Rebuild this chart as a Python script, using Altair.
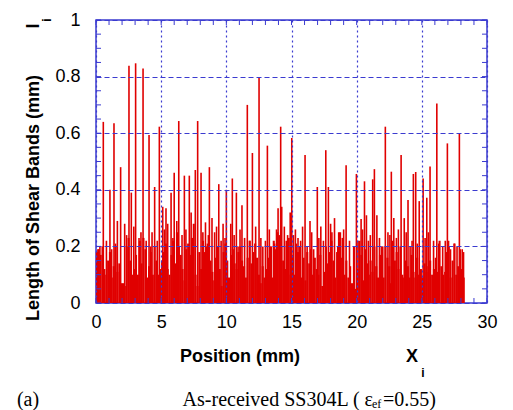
import altair as alt
import pandas as pd

# ---- data ----
peak_x = [0.56, 1.07, 1.38, 1.64, 1.89, 2.53, 2.71, 3.04, 3.30, 3.61, 3.85, 4.07, 4.50, 4.86,
          5.12, 5.37, 5.76, 6.00, 6.35, 6.78, 7.16, 7.30, 7.62, 7.80, 8.06, 8.40, 8.70, 9.10,
          9.42, 9.75, 10.00, 10.34, 10.46, 10.77, 11.20, 11.61, 12.00, 12.51, 13.15, 13.45,
          13.70, 13.97, 14.17, 14.25, 14.60, 14.70, 14.90, 15.02, 15.50, 15.70, 16.04, 16.42,
          16.70, 16.98, 17.25, 17.63, 17.83, 18.10, 18.55, 18.75, 19.00, 19.19, 19.80, 19.98,
          20.34, 20.60, 20.75, 20.90, 21.23, 21.36, 21.55, 21.75, 22.20, 22.40, 22.66, 22.85,
          23.41, 23.65, 23.94, 24.35, 24.53, 24.80, 25.10, 25.38, 25.63, 26.15, 26.80, 26.96,
          27.50, 27.88, 28.10,
          0.30, 2.20, 4.30, 5.50, 6.60, 8.90, 9.60, 10.90, 11.80, 12.80, 13.30, 15.30, 16.20,
          18.30, 20.10, 22.00, 23.20, 24.10, 25.90, 27.20]
peak_y = [0.64, 0.40, 0.635, 0.29, 0.48, 0.838, 0.39, 0.847, 0.23, 0.829, 0.22, 0.594, 0.41, 0.623,
          0.34, 0.335, 0.39, 0.46, 0.643, 0.45, 0.45, 0.32, 0.47, 0.643, 0.46, 0.285, 0.48, 0.25,
          0.42, 0.28, 0.40, 0.28, 0.44, 0.39, 0.345, 0.70, 0.53, 0.796, 0.556, 0.20,
          0.21, 0.335, 0.623, 0.34, 0.22, 0.24, 0.32, 0.583, 0.23, 0.22, 0.523, 0.29,
          0.19, 0.41, 0.27, 0.54, 0.41, 0.25, 0.20, 0.25, 0.26, 0.487, 0.20, 0.456,
          0.297, 0.43, 0.31, 0.22, 0.437, 0.473, 0.31, 0.23, 0.623, 0.25, 0.464, 0.30,
          0.523, 0.30, 0.364, 0.456, 0.463, 0.36, 0.44, 0.372, 0.482, 0.705, 0.22, 0.564,
          0.21, 0.60, 0.19,
          0.20, 0.28, 0.25, 0.28, 0.24, 0.30, 0.22, 0.20, 0.22, 0.20, 0.26, 0.26, 0.20,
          0.30, 0.22, 0.20, 0.26, 0.20, 0.22, 0.19]

# medium-height bands
mid_x = [0.15, 0.80, 1.20, 1.50, 2.35, 2.90, 3.45, 4.20, 4.70, 5.25, 5.90, 6.20, 6.90, 7.45,
         8.20, 8.55, 9.25, 9.90, 10.60, 11.05, 11.40, 12.25, 12.65, 13.00, 13.85, 14.45, 15.15,
         15.85, 16.55, 17.10, 17.45, 18.00, 18.90, 19.45, 20.45, 21.05, 21.90, 22.55, 23.05,
         23.80, 24.25, 24.65, 25.25, 25.50, 26.30, 26.60, 27.05, 27.70, 28.20]
mid_y = [0.19, 0.22, 0.19, 0.21, 0.24, 0.27, 0.25, 0.20, 0.22, 0.26, 0.23, 0.29, 0.26, 0.22,
         0.25, 0.21, 0.27, 0.23, 0.24, 0.26, 0.23, 0.27, 0.23, 0.22, 0.26, 0.27, 0.24,
         0.27, 0.25, 0.23, 0.22, 0.28, 0.23, 0.22, 0.26, 0.24, 0.20, 0.24, 0.23,
         0.25, 0.22, 0.21, 0.23, 0.25, 0.21, 0.20, 0.22, 0.20, 0.18]

# low, dense background bands: heights per millimetre of position
bg_heights = {
    0: [0.18, 0.19, 0.17, 0.20, 0.12, 0.10, 0.15],
    1: [0.18, 0.09, 0.13, 0.20, 0.11, 0.14, 0.07],
    2: [0.07, 0.06, 0.20, 0.23, 0.15, 0.10, 0.12],
    3: [0.17, 0.10, 0.22, 0.14, 0.23, 0.19, 0.09],
    4: [0.13, 0.18, 0.10, 0.20, 0.15, 0.10, 0.12],
    5: [0.15, 0.18, 0.21, 0.12, 0.10, 0.17, 0.22],
    6: [0.14, 0.25, 0.20, 0.17, 0.12, 0.08, 0.19],
    7: [0.21, 0.17, 0.23, 0.28, 0.10, 0.06, 0.18],
    8: [0.12, 0.22, 0.18, 0.20, 0.24, 0.15, 0.11],
    9: [0.08, 0.16, 0.20, 0.12, 0.06, 0.18, 0.21],
    10: [0.15, 0.09, 0.17, 0.19, 0.14, 0.12, 0.18],
    11: [0.20, 0.15, 0.13, 0.09, 0.16, 0.22, 0.14],
    12: [0.18, 0.21, 0.16, 0.10, 0.07, 0.13, 0.09],
    13: [0.12, 0.16, 0.20, 0.09, 0.22, 0.19, 0.25],
    14: [0.24, 0.20, 0.15, 0.12, 0.20, 0.23, 0.10],
    15: [0.17, 0.10, 0.21, 0.18, 0.20, 0.09, 0.16],
    16: [0.08, 0.18, 0.14, 0.19, 0.10, 0.16, 0.12],
    17: [0.10, 0.17, 0.06, 0.11, 0.20, 0.14, 0.18],
    18: [0.22, 0.15, 0.09, 0.18, 0.25, 0.16, 0.12],
    19: [0.10, 0.15, 0.09, 0.13, 0.07, 0.20, 0.05],
    20: [0.12, 0.22, 0.17, 0.08, 0.19, 0.14, 0.10],
    21: [0.15, 0.11, 0.20, 0.13, 0.09, 0.17, 0.12],
    22: [0.09, 0.20, 0.16, 0.13, 0.07, 0.22, 0.15],
    23: [0.18, 0.12, 0.20, 0.10, 0.09, 0.15, 0.13],
    24: [0.09, 0.17, 0.11, 0.09, 0.16, 0.10, 0.12],
    25: [0.09, 0.14, 0.11, 0.13, 0.15, 0.10, 0.12],
    26: [0.16, 0.11, 0.22, 0.13, 0.10, 0.11, 0.18],
    27: [0.20, 0.09, 0.15, 0.21, 0.10, 0.13, 0.19],
    28: [0.12, 0.09],
}
bg_offsets = [0.07, 0.21, 0.36, 0.50, 0.64, 0.79, 0.93]

x_ticks = [0, 5, 10, 15, 20, 25, 30]
y_ticks = [0, 0.2, 0.4, 0.6, 0.8, 1.0]
x_minor = list(range(0, 31))
y_minor = [i / 20 for i in range(0, 21)]

# ---- build tables ----
bx, by = [], []
for mm, hs in bg_heights.items():
    for off, h in zip(bg_offsets, hs):
        bx.append(mm + off)
        by.append(h)
low = pd.DataFrame({"x": bx, "y": by})
low["y0"] = 0.0
tall = pd.DataFrame({"x": peak_x + mid_x, "y": peak_y + mid_y})
tall["y0"] = 0.0

W, H = 391, 283
BLUE = "#3b3bd0"
RED = "#e00000"

xs = alt.Scale(domain=[0, 30], nice=False, zero=False)
ys = alt.Scale(domain=[0, 1], nice=False)
xaxis = alt.Axis(values=x_ticks, title=None, grid=True, gridColor=BLUE, gridDash=[2, 3],
                 gridWidth=1.2, domain=False, ticks=False, labelFontSize=18,
                 labelFont="Liberation Sans", labelColor="black", labelPadding=10, zindex=1,
                 labelFlush=False)
yaxis = alt.Axis(values=y_ticks, title=None, grid=True, gridColor=BLUE, gridDash=[5, 3],
                 gridWidth=1.2, domain=False, ticks=False, labelFontSize=18, format=".1~f",
                 labelFont="Liberation Sans", labelColor="black", labelPadding=16, zindex=1,
                 labelFlush=False)

X = alt.X("x:Q", scale=xs, axis=xaxis)
Y = alt.Y("y:Q", scale=ys, axis=yaxis)

low_layer = alt.Chart(low).mark_rule(color=RED, strokeWidth=2.1).encode(
    x=X, y=Y, y2="y0:Q")
tall_layer = alt.Chart(tall).mark_rule(color=RED, strokeWidth=1.6).encode(
    x=X, y=Y, y2="y0:Q")

xt = pd.DataFrame({"x": x_minor})
yt = pd.DataFrame({"y": y_minor})
top_ticks = alt.Chart(xt).mark_rule(color=BLUE, strokeWidth=1).encode(
    x=X, y=alt.value(0), y2=alt.value(5))
bot_ticks = alt.Chart(xt).mark_rule(color=BLUE, strokeWidth=1).encode(
    x=X, y=alt.value(H), y2=alt.value(H - 5))
left_ticks = alt.Chart(yt).mark_rule(color=BLUE, strokeWidth=1).encode(
    y=Y, x=alt.value(0), x2=alt.value(5))
right_ticks = alt.Chart(yt).mark_rule(color=BLUE, strokeWidth=1).encode(
    y=Y, x=alt.value(W), x2=alt.value(W - 5))


def txt(s, x, y, size, font="Liberation Sans", weight="normal", align="center", angle=0):
    return alt.Chart(pd.DataFrame({"t": [s]})).mark_text(
        font=font, fontSize=size, fontWeight=weight, align=align, baseline="middle",
        angle=angle, color="black").encode(text="t:N", x=alt.value(x), y=alt.value(y))


texts = [
    txt("Length of Shear Bands (mm)", -62, 178, 18, weight="bold", angle=270),
    txt("l", -62, 6, 18, weight="bold", angle=270),
    txt("i", -49, 0, 12, weight="bold", angle=270),
    txt("Position (mm)", 144, 337, 18, weight="bold"),
    txt("X", 316, 337, 18, weight="bold"),
    txt("i", 327, 353, 12, weight="bold"),
    txt("(a)", -68, 380, 20, font="Liberation Serif"),
    txt("As-received SS304L ( ε", 277, 380, 20, font="Liberation Serif", align="right"),
    txt("ef", 276, 384, 12, font="Liberation Serif", align="left"),
    txt("=0.55)", 287, 380, 20, font="Liberation Serif", align="left"),
]

chart = alt.layer(low_layer, tall_layer, top_ticks, bot_ticks, left_ticks, right_ticks,
                  *texts).properties(
    width=W, height=H,
    autosize=alt.AutoSizeParams(type="none"),
    padding={"left": 96, "top": 20, "right": 26, "bottom": 107},
).configure_view(stroke=BLUE, strokeWidth=1.5)

chart.save("out.html", embed_options={"renderer": "svg", "actions": False})
